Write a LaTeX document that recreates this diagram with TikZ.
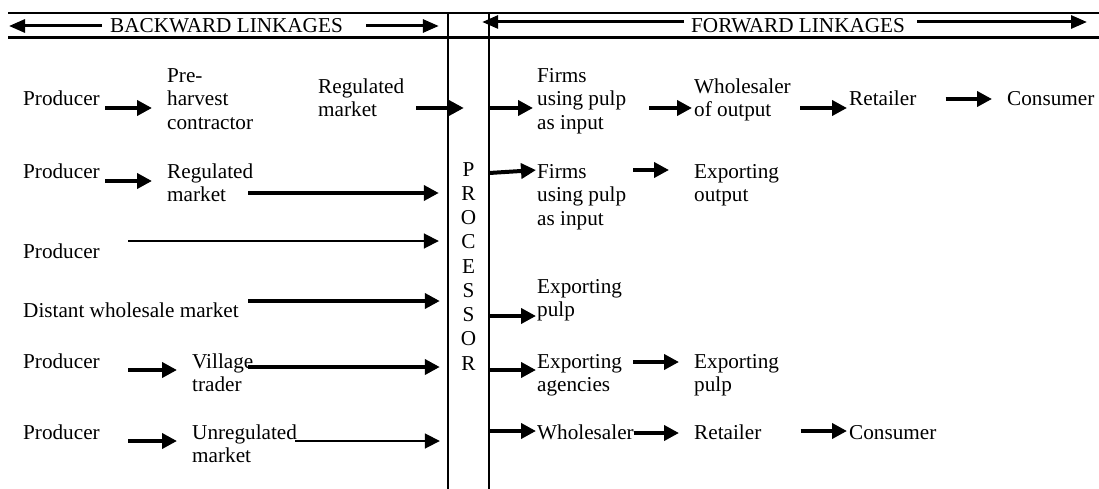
\documentclass[tikz,border=0pt]{standalone}
\usepackage{fontspec}
\setmainfont{Liberation Serif}
\usetikzlibrary{arrows.meta}
\newcommand\labfont{\fontsize{21.2}{23.5}\selectfont}
\newcommand\procfont{\fontsize{21.2}{24.25}\selectfont}
\newcommand\st{\rule{0pt}{15pt}}
\begin{document}
\begin{tikzpicture}[x=1pt,y=-1pt,
  lab/.style={inner sep=0pt, anchor=north west, align=left, font=\labfont},
  ta/.style={line width=4pt, -{Triangle[length=15pt,width=15pt]}},
  tn/.style={line width=1.8pt, -{Triangle[length=15pt,width=15pt]}},
  ha/.style={line width=3pt, -{Triangle[length=16pt,width=13pt]}},
  frame/.style={line width=2.2pt}]
\useasboundingbox (0,0) rectangle (1099,489);
% frame
\node[minimum width=41pt, minimum height=476pt, inner sep=0pt] (proc) at (468.5,251) {};
\draw[frame] (8,13) -- (1099,13);
\draw[frame] (8,37.5) -- (1099,37.5);
\draw[frame] (proc.north west) -- (proc.south west);
\draw[frame] (proc.north east) -- (proc.south east);
\node[inner sep=0pt, anchor=north, align=center, font=\procfont] (proctext) at (468.5,161) {\st P\\R\\O\\C\\E\\S\\S\\O\\R};
% header
\node[lab] (bw) at (110,17) {\st BACKWARD LINKAGES};
\node[lab] (fw) at (691,17) {\st FORWARD LINKAGES};
\coordinate (bwL) at (9,26);
\coordinate (fwR) at (1087,22);
\draw[ha, shorten <=8pt] (bw.west |- 0,26) -- (bwL);
\draw[ha, shorten <=23pt, shorten >=9pt] (bw.east |- 0,26) -- (proc.west |- 0,26);
\draw[ha, shorten <=7pt, shorten >=-7pt] (fw.west |- 0,22) -- (proc.east |- 0,22);
\draw[ha, shorten <=12pt] (fw.east |- 0,22) -- (fwR);
% row 1
\node[lab] (p1) at (23,90) {\st Producer};
\node[lab] (ph) at (167,67) {\st Pre-\\harvest\\contractor};
\node[lab] (rm1) at (318,78) {\st Regulated\\market};
\node[lab] (f1) at (537,67) {\st Firms\\using pulp\\as input};
\node[lab] (w1) at (694,78) {\st Wholesaler\\of output};
\node[lab] (r1) at (849,90) {\st Retailer};
\node[lab] (c1) at (1007,90) {\st Consumer};
% row 2
\node[lab] (p2) at (23,163) {\st Producer};
\node[lab] (rm2) at (167,163) {\st Regulated\\market};
\node[lab] (f2) at (537,163) {\st Firms\\using pulp\\as input};
\node[lab] (ex2) at (694,163) {\st Exporting\\output};
% row 3
\node[lab] (p3) at (23,243) {\st Producer};
% row 4
\node[lab] (dwm) at (23,302) {\st Distant wholesale market};
\node[lab] (exp4) at (537,278) {\st Exporting\\pulp};
% row 5
\node[lab] (p5) at (23,353) {\st Producer};
\node[lab] (vt) at (192,353) {\st Village\\trader};
\node[lab] (ea) at (537,353) {\st Exporting\\agencies};
\node[lab] (ep5) at (694,353) {\st Exporting\\pulp};
% row 6
\node[lab] (p6) at (23,424) {\st Producer};
\node[lab] (um) at (192,424) {\st Unregulated\\market};
\node[lab] (ws6) at (537,424) {\st Wholesaler};
\node[lab] (rt6) at (694,424) {\st Retailer};
\node[lab] (c6) at (849,424) {\st Consumer};
% connectors row 1
\draw[ta, shorten <=5.5pt, shorten >=15pt] (p1.east |- 0,108) -- (ph.west |- 0,108);
\draw[ta, shorten <=12pt, shorten >=-16pt] (rm1.east |- 0,108) -- (proc.west |- 0,108);
\draw[ta, shorten >=4pt] (proc.east |- 0,108) -- (f1.west |- 0,108);
\draw[ta, shorten <=23pt, shorten >=2pt] (f1.east |- 0,108) -- (w1.west |- 0,108);
\draw[ta, shorten <=9.5pt, shorten >=2pt] (w1.east |- 0,108) -- (r1.west |- 0,108);
\draw[ta, shorten <=29pt, shorten >=15pt] (r1.east |- 0,99) -- (c1.west |- 0,99);
% row 2
\draw[ta, shorten <=5.5pt, shorten >=15pt] (p2.east |- 0,181) -- (rm2.west |- 0,181);
\draw[ta, shorten <=-5pt, shorten >=9pt] (rm2.east |- 0,193) -- (proc.west |- 0,193);
\draw[ta, shorten >=1pt] (proc.east |- 0,173) -- (f2.west |- 0,170);
\draw[ta, shorten <=7pt, shorten >=25pt] (f2.east |- 0,170) -- (ex2.west |- 0,170);
% row 3
\draw[tn, shorten <=28.5pt, shorten >=9pt] (p3.east |- 0,241) -- (proc.west |- 0,241);
% row 4
\draw[ta, shorten <=9.5pt, shorten >=8pt] (dwm.east |- 0,301) -- (proc.west |- 0,301);
\draw[ta, shorten >=1pt] (proc.east |- 0,316) -- (exp4.west |- 0,316);
% row 5
\draw[ta, shorten <=28.5pt, shorten >=15pt] (p5.east |- 0,370) -- (vt.west |- 0,370);
\draw[ta, shorten <=-6pt, shorten >=8pt] (vt.east |- 0,367) -- (proc.west |- 0,367);
\draw[ta, shorten >=1pt] (proc.east |- 0,370) -- (ea.west |- 0,370);
\draw[ta, shorten <=11pt, shorten >=15pt] (ea.east |- 0,362) -- (ep5.west |- 0,362);
% row 6
\draw[ta, shorten <=28.5pt, shorten >=15pt] (p6.east |- 0,441) -- (um.west |- 0,441);
\draw[tn, shorten <=-2pt, shorten >=8pt] (um.east |- 0,441) -- (proc.west |- 0,441);
\draw[ta, shorten >=1pt] (proc.east |- 0,431) -- (ws6.west |- 0,431);
\draw[ta, shorten >=15pt] (ws6.east |- 0,433) -- (rt6.west |- 0,433);
\draw[ta, shorten <=39pt, shorten >=2pt] (rt6.east |- 0,431) -- (c6.west |- 0,431);
\end{tikzpicture}
\end{document}
